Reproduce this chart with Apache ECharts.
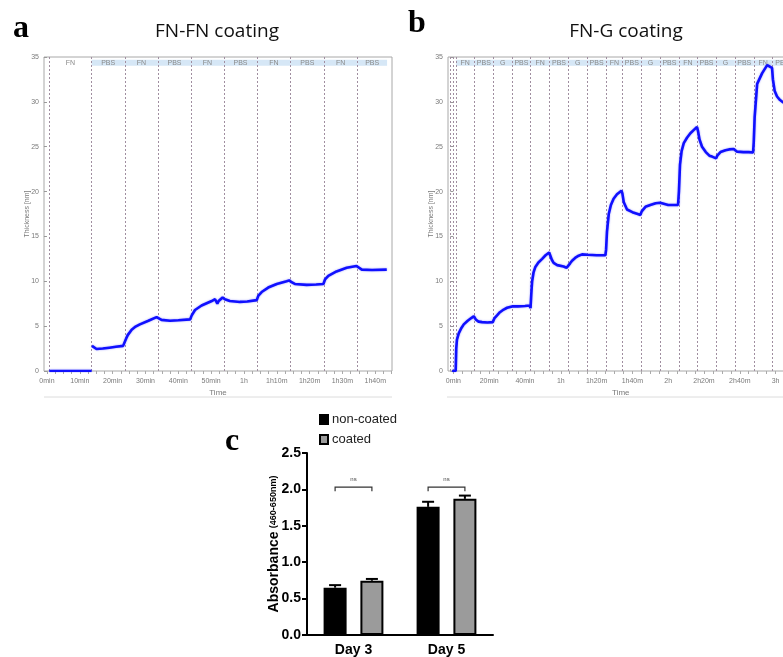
<!DOCTYPE html>
<html>
<head>
<meta charset="utf-8">
<script src="https://cdn.jsdelivr.net/npm/echarts@6.0.0/dist/echarts.min.js"></script>
<style>html,body{margin:0;padding:0;background:#fff}#chart{width:783px;height:657px}</style>
</head>
<body>
<div id="chart"></div>
<script>
// ---------- Panel a: FN-FN coating ----------
const fnfnTime = [0.7,13.6,13.65,13.7,14.3,15.1,17,19,21,23.2,23.7,24.1,24.6,25.8,27,28.3,30.9,33.4,33.8,34.9,37.5,40,43.6,44.1,45.1,47.1,50.2,51.2,51.6,51.9,52.3,52.7,53.5,54.2,55.7,58.8,61,63.9,64.4,65.4,67.4,70,73,73.8,74.5,75.5,79.1,82,84.2,84.7,85.7,88.2,91.3,94.3,94.7,95.9,99,103.5];
const fnfnThick = [0,0,null,2.8,2.6,2.45,2.5,2.6,2.7,2.8,2.85,3.6,4.0,4.6,4.95,5.2,5.6,6.0,5.95,5.7,5.6,5.65,5.75,6.2,6.8,7.3,7.8,8.0,7.8,7.5,7.8,8.0,8.2,8.0,7.8,7.7,7.75,7.9,8.4,8.8,9.3,9.7,10.0,10.1,9.9,9.7,9.6,9.65,9.7,10.2,10.6,11.1,11.5,11.7,11.6,11.3,11.25,11.3];
const fnfnBounds = [0.7,13.6,23.7,33.8,43.9,53.9,64.0,74.2,84.4,94.5,103.6];
const fnfnSteps = ['FN','PBS','FN','PBS','FN','PBS','FN','PBS','FN','PBS'];
const fnfnTickVals = [0,10,20,30,40,50,60,70,80,90,100];
const fnfnTickLabels = ['0min','10min','20min','30min','40min','50min','1h','1h10m','1h20m','1h30m','1h40m'];

// ---------- Panel b: FN-G coating ----------
const fngTime = [-0.7,1.3,1.6,2.0,3.0,4.5,5.8,8,10,11.4,11.8,12.5,14.1,16,19,22,22.4,23,24.4,26,28.1,30,32.8,36,40,42.6,43.1,43.5,44.0,44.8,45.8,47.5,49.6,51.5,53.5,54,55,56,58,61.6,63.3,63.9,64.4,65.2,66.3,68,70,71.9,75,80,84.9,85.3,85.8,86.8,88,89.5,91.4,93.9,94.4,95.2,97,100,103,104.5,105.2,107.3,110,113,115.5,116,120,125.5,126,126.6,127.5,128.7,130.5,132.4,134.5,136.1,136.6,137.5,138.9,141,143,144.5,146.8,147.4,149.2,152,154,156.6,158.5,162,165,167.4,167.8,168.3,169.7,172.5,175.3,178,178.5,179.5,180.8,182.5,184.5,187];
const fngThick = [0,0,2.5,3.5,4.2,4.8,5.2,5.6,5.9,6.1,6.0,5.75,5.5,5.45,5.4,5.45,5.6,5.9,6.2,6.55,6.85,7.05,7.2,7.2,7.25,7.3,7.0,8.5,10,11,11.6,12.1,12.5,12.9,13.2,13.0,12.4,12.05,11.8,11.65,11.5,11.3,11.6,12.0,12.3,12.6,12.85,13.0,12.95,12.9,12.9,13.5,15.5,17.5,18.5,19.2,19.7,20.1,19.8,18.8,18.0,17.7,17.5,17.4,17.8,18.3,18.5,18.7,18.75,18.55,18.5,18.5,20,23,24.5,25.4,26.0,26.5,26.9,27.2,26.8,25.8,25.0,24.4,24.0,23.9,23.7,24.0,24.4,24.6,24.7,24.75,24.45,24.4,24.4,24.35,25.5,28.3,32.0,33.2,34.1,33.8,32.5,31.2,30.6,30.2,29.9];
const fngBounds = [1.5,11.7,22.35,32.8,43.2,53.8,64.2,74.7,85.3,94.6,104.8,115.5,125.9,136.1,146.7,157.2,167.8,178.4,189];
const fngSteps = ['FN','PBS','G','PBS','FN','PBS','G','PBS','FN','PBS','G','PBS','FN','PBS','G','PBS','FN','PBS'];
const fngExtraLines = [-1.7,0.2];
const fngTickVals = [0,20,40,60,80,100,120,140,160,180];
const fngTickLabels = ['0min','20min','40min','1h','1h20m','1h40m','2h','2h20m','2h40m','3h'];

// ---------- Panel c: absorbance ----------
const days = ['Day 3','Day 5'];
const nonCoated = [0.65,1.76];
const coated = [0.745,1.87];
const nonCoatedErr = [0.035,0.07];
const coatedErr = [0.025,0.045];
const sigLabels = ['ns','ns'];
const sigLevel = [2.03,2.03];

// ---------- build ----------
const pairs = (t, v) => t.map((x, i) => [x, v[i]]);
const BAR_W = 23, BAR_GAP = 0.6, OFFSET = BAR_W * (1 + BAR_GAP) / 2;
const BAND_LO = 34.02, BAND_HI = 34.69;

function bandAreas(bounds, steps, skipFirstFill) {
  return steps.map((s, i) => [
    {xAxis: bounds[i], yAxis: BAND_LO, name: s,
     itemStyle: {color: (skipFirstFill && i === 0) ? 'rgba(0,0,0,0)' : '#d6e7f6'}},
    {xAxis: bounds[i + 1], yAxis: BAND_HI}
  ]);
}
function vLines(vals) { return vals.map(v => ({xAxis: v})); }

const grayTxt = '#7a7a7a';
function thickYAxis(gi) {
  return {
    gridIndex: gi, type: 'value', min: 0, max: 35, interval: 5,
    name: 'Thickness [nm]', nameLocation: 'middle', nameGap: 13, nameMoveOverlap: false,
    nameTextStyle: {fontSize: 7, color: grayTxt, fontFamily: 'Liberation Sans'},
    axisLine: {show: false}, splitLine: {show: false},
    axisTick: {show: true, length: 3, lineStyle: {color: '#999'}},
    axisLabel: {fontSize: 7, color: grayTxt, margin: 5, fontFamily: 'Liberation Sans'}
  };
}
function timeXAxis(gi, min, max, tickVals, tickLabels, minorStep) {
  const minor = [];
  for (let v = 0; v <= max; v += minorStep) minor.push(v);
  return {
    gridIndex: gi, type: 'value', min: min, max: max,
    name: 'Time', nameLocation: 'middle', nameGap: 18, nameMoveOverlap: false,
    nameTextStyle: {fontSize: 8, color: grayTxt, fontFamily: 'Liberation Sans'},
    axisLine: {show: false}, splitLine: {show: false},
    axisTick: {show: true, length: 3, inside: false, customValues: minor, lineStyle: {color: '#aaa'}},
    axisLabel: {fontSize: 7, color: grayTxt, margin: 7, fontFamily: 'Liberation Sans',
      customValues: tickVals,
      formatter: v => { const i = tickVals.indexOf(v); return i >= 0 ? tickLabels[i] : ''; }}
  };
}

const lineStyleBlue = {color: '#1010ff', width: 2.6, shadowBlur: 2, shadowColor: 'rgba(90,90,255,0.6)'};
const markLineStyle = {color: '#a08ea0', type: [2, 2], width: 1};

const option = {
  animation: false,
  backgroundColor: '#fff',
  textStyle: {fontFamily: 'Liberation Sans'},
  grid: [
    {left: 44, top: 57, width: 348, height: 314, show: true, borderColor: '#a8a8a8', borderWidth: 1, backgroundColor: '#fff', containLabel: false, outerBoundsMode: 'none'},
    {left: 448, top: 57, width: 345.5, height: 314, show: true, borderColor: '#a8a8a8', borderWidth: 1, backgroundColor: '#fff', containLabel: false, outerBoundsMode: 'none'},
    {left: 307, top: 453, width: 186, height: 182, containLabel: false, outerBoundsMode: 'none'}
  ],
  xAxis: [
    timeXAxis(0, -0.9, 105.1, fnfnTickVals, fnfnTickLabels, 2.5),
    timeXAxis(1, -3, 190, fngTickVals, fngTickLabels, 5),
    {gridIndex: 2, type: 'category', data: days,
     axisLine: {lineStyle: {color: '#000', width: 2}},
     axisTick: {alignWithLabel: true, length: 5, lineStyle: {color: '#000', width: 2}},
     axisLabel: {fontSize: 14, fontWeight: 'bold', color: '#000', margin: 8, fontFamily: 'Liberation Sans'}}
  ],
  yAxis: [
    thickYAxis(0),
    thickYAxis(1),
    {gridIndex: 2, type: 'value', min: 0, max: 2.5, interval: 0.5,
     name: '{a|Absorbance} {b|(460-650nm)}', nameLocation: 'middle', nameGap: 26, nameMoveOverlap: false,
     nameTextStyle: {rich: {
       a: {fontSize: 14, fontWeight: 'bold', color: '#000', fontFamily: 'Liberation Sans'},
       b: {fontSize: 9, fontWeight: 'bold', color: '#000', fontFamily: 'Liberation Sans'}}},
     axisLine: {show: true, lineStyle: {color: '#000', width: 2}},
     axisTick: {show: true, length: 5, lineStyle: {color: '#000', width: 2}},
     splitLine: {show: false},
     axisLabel: {fontSize: 14, fontWeight: 'bold', color: '#000', margin: 6, fontFamily: 'Liberation Sans',
       formatter: v => v.toFixed(1)}}
  ],
  legend: {
    data: ['non-coated', 'coated'], orient: 'vertical', left: 314, top: 408,
    icon: 'rect', itemWidth: 8, itemHeight: 9, itemGap: 7,
    textStyle: {fontSize: 13, color: '#222', fontFamily: 'Liberation Sans', padding: [0, 0, 0, -1]}
  },
  series: [
    {type: 'line', name: 'FN-FN', xAxisIndex: 0, yAxisIndex: 0, data: pairs(fnfnTime, fnfnThick),
     showSymbol: false, connectNulls: false, lineStyle: lineStyleBlue, itemStyle: {color: '#1010ff'}, z: 5,
     markLine: {silent: true, symbol: 'none', label: {show: false}, lineStyle: markLineStyle, data: vLines(fnfnBounds.slice(0, -1))},
     markArea: {silent: true, label: {show: true, position: 'inside', fontSize: 7, color: '#8a8a8a', fontFamily: 'Liberation Sans'},
       data: bandAreas(fnfnBounds, fnfnSteps, true)}},
    {type: 'line', name: 'FN-G', xAxisIndex: 1, yAxisIndex: 1, data: pairs(fngTime, fngThick),
     showSymbol: false, lineStyle: lineStyleBlue, itemStyle: {color: '#1010ff'}, z: 5,
     markLine: {silent: true, symbol: 'none', label: {show: false}, lineStyle: markLineStyle,
       data: vLines(fngExtraLines.concat(fngBounds.slice(0, -1)))},
     markArea: {silent: true, label: {show: true, position: 'inside', fontSize: 7, color: '#8a8a8a', fontFamily: 'Liberation Sans'},
       data: bandAreas(fngBounds, fngSteps, false)}},
    {type: 'bar', name: 'non-coated', xAxisIndex: 2, yAxisIndex: 2, data: nonCoated,
     barWidth: BAR_W, barGap: (BAR_GAP * 100) + '%',
     itemStyle: {color: '#000', borderColor: '#000', borderWidth: 2}},
    {type: 'bar', name: 'coated', xAxisIndex: 2, yAxisIndex: 2, data: coated,
     barWidth: BAR_W, barGap: (BAR_GAP * 100) + '%',
     itemStyle: {color: '#9b9b9b', borderColor: '#000', borderWidth: 2}},
    {type: 'custom', name: 'err-non', xAxisIndex: 2, yAxisIndex: 2, z: 10,
     data: nonCoated.map((v, i) => [i, v, nonCoatedErr[i]]),
     renderItem: (p, api) => errBar(api, -OFFSET)},
    {type: 'custom', name: 'err-coated', xAxisIndex: 2, yAxisIndex: 2, z: 10,
     data: coated.map((v, i) => [i, v, coatedErr[i]]),
     renderItem: (p, api) => errBar(api, OFFSET)},
    {type: 'custom', name: 'sig', xAxisIndex: 2, yAxisIndex: 2, z: 10,
     data: sigLevel.map((v, i) => [i, v, sigLabels[i]]),
     renderItem: (p, api) => {
       const c = api.coord([api.value(0), api.value(1)]);
       const xl = c[0] - OFFSET, xr = c[0] + OFFSET, y = c[1];
       return {type: 'group', children: [
         {type: 'polyline', shape: {points: [[xl, y + 4], [xl, y], [xr, y], [xr, y + 4]]},
          style: {stroke: '#333', lineWidth: 1.2, fill: null}},
         {type: 'text', style: {text: sigLabels[p.dataIndex], x: c[0], y: y - 5, align: 'center', verticalAlign: 'bottom',
          fontSize: 6, fill: '#444', fontFamily: 'Liberation Sans'}}
       ]};
     }}
  ],
  graphic: [
    {type: 'text', left: 13, top: 13, style: {text: 'a', font: 'bold 32px "Liberation Serif"', fill: '#000'}},
    {type: 'text', left: 408, top: 8, style: {text: 'b', font: 'bold 32px "Liberation Serif"', fill: '#000'}},
    {type: 'text', left: 225, top: 426, style: {text: 'c', font: 'bold 32px "Liberation Serif"', fill: '#000'}},
    {type: 'text', x: 217, y: 32, style: {text: 'FN-FN coating', font: '19px "Open Sans"', fill: '#111', align: 'center', verticalAlign: 'middle'}},
    {type: 'text', x: 626, y: 32, style: {text: 'FN-G coating', font: '19px "Open Sans"', fill: '#111', align: 'center', verticalAlign: 'middle'}},
    {type: 'line', shape: {x1: 44, y1: 397, x2: 392, y2: 397}, style: {stroke: '#dcdcdc', lineWidth: 1}},
    {type: 'line', shape: {x1: 447, y1: 397, x2: 783, y2: 397}, style: {stroke: '#dcdcdc', lineWidth: 1}}
  ]
};

function errBar(api, off) {
  const cat = api.value(0), m = api.value(1), e = api.value(2);
  const base = api.coord([cat, m]);
  const top = api.coord([cat, m + e]);
  const x = base[0] + off;
  return {type: 'group', children: [
    {type: 'line', shape: {x1: x, y1: base[1], x2: x, y2: top[1]}, style: {stroke: '#000', lineWidth: 2}},
    {type: 'line', shape: {x1: x - 6, y1: top[1], x2: x + 6, y2: top[1]}, style: {stroke: '#000', lineWidth: 2}}
  ]};
}

const chart = echarts.init(document.getElementById('chart'), null, {renderer: 'canvas'});
chart.setOption(option);
</script>
</body>
</html>
